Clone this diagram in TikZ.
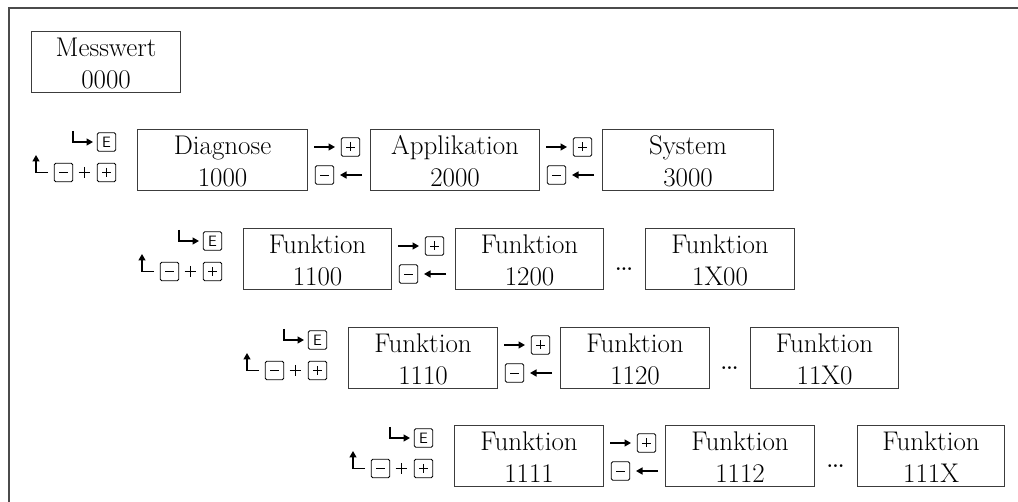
\documentclass[tikz,border=0pt]{standalone}
\usetikzlibrary{arrows.meta,calc}
\definecolor{framec}{RGB}{75,75,75}
\definecolor{boxc}{RGB}{60,60,60}
\tikzset{
 box/.style={draw=boxc, line width=1.1pt, inner sep=0pt, minimum height=61pt, anchor=north west},
 txt/.style={inner sep=0pt, anchor=base, font=\fontsize{27}{30}\selectfont},
 key/.style={draw=black, line width=0.8pt, rounded corners=1.5pt, minimum size=18.5pt, inner sep=0pt, font=\sffamily\fontsize{15}{15}\selectfont},
 glyph/.style={line width=0.9pt},
 arr/.style={line width=1.4pt, -{Triangle[length=6.5pt,width=7pt]}},
 dots/.style={inner sep=0pt, font=\fontsize{34}{34}\selectfont},
 leftkeys/.pic={
  \node[key] (-e) at (-30.5,13) {E};
  \node[key] (-m) at (-73.5,43.5) {};
  \node[key] (-p) at (-30.5,43.5) {};
  \draw[glyph] (-78,43.5) -- (-69,43.5);
  \draw[glyph] (-35,43.5) -- (-26,43.5) (-30.5,39) -- (-30.5,48);
  \draw[glyph] (-58.5,43.5) -- (-47.5,43.5) (-53,38) -- (-53,49);
  \draw[arr] (-64,2) -- (-64,13) -- (-44,13);
  \draw[arr] (-89,43.5) -- (-101,43.5) -- (-101,26);
 },
 betweenkeys/.pic={
  \node[key] (-p) at (43.5,18) {};
  \node[key] (-m) at (17.5,46) {};
  \draw[glyph] (39,18) -- (48,18) (43.5,13.5) -- (43.5,22.5);
  \draw[glyph] (13,46) -- (22,46);
  \draw[arr] (7,18) -- (28,18);
  \draw[arr] (55,46) -- (33,46);
 },
}
\newcommand\menubox[6]{%
  \node[box, minimum width=#4pt] (#1) at (#2,#3) {};
  \node[txt] (#1a) at ($(#1.north)+(0,26)$) {#5};
  \node[txt] (#1b) at ($(#1.north)+(0,58)$) {#6};
}
\begin{document}
\begin{tikzpicture}[x=1pt,y=-1pt]
\useasboundingbox (0,0) rectangle (1018,502);
\draw[framec, line width=2.5pt] (9,503) -- (9,8) -- (1019,8);

\menubox{mw}{31}{31}{149}{Messwert}{0000}

% row 1
\menubox{d}{137}{129}{170}{Diagnose}{1000}
\menubox{a}{370}{129}{169}{Applikation}{2000}
\menubox{s}{602}{129}{171}{System}{3000}
\pic (r1l) at (137,129) {leftkeys};
\pic (r1b) at (307,129) {betweenkeys};
\pic (r1c) at (539,129) {betweenkeys};

% row 2
\menubox{f1}{243}{228}{148}{Funktion}{1100}
\menubox{f2}{455}{228}{148}{Funktion}{1200}
\menubox{f3}{645}{228}{149}{Funktion}{1X00}
\pic (r2l) at (243,228) {leftkeys};
\pic (r2b) at (391,228) {betweenkeys};
\node[dots] (r2d) at (624,269) {\ldots};

% row 3
\menubox{g1}{348}{327}{149}{Funktion}{1110}
\menubox{g2}{560}{327}{149}{Funktion}{1120}
\menubox{g3}{750}{327}{148}{Funktion}{11X0}
\pic (r3l) at (348,327) {leftkeys};
\pic (r3b) at (497,327) {betweenkeys};
\node[dots] (r3d) at (729.5,368) {\ldots};

% row 4
\menubox{h1}{454}{425}{149}{Funktion}{1111}
\menubox{h2}{665}{425}{149}{Funktion}{1112}
\menubox{h3}{857}{425}{147}{Funktion}{111X}
\pic (r4l) at (454,425) {leftkeys};
\pic (r4b) at (603,425) {betweenkeys};
\node[dots] (r4d) at (835.5,466) {\ldots};
\end{tikzpicture}
\end{document}
